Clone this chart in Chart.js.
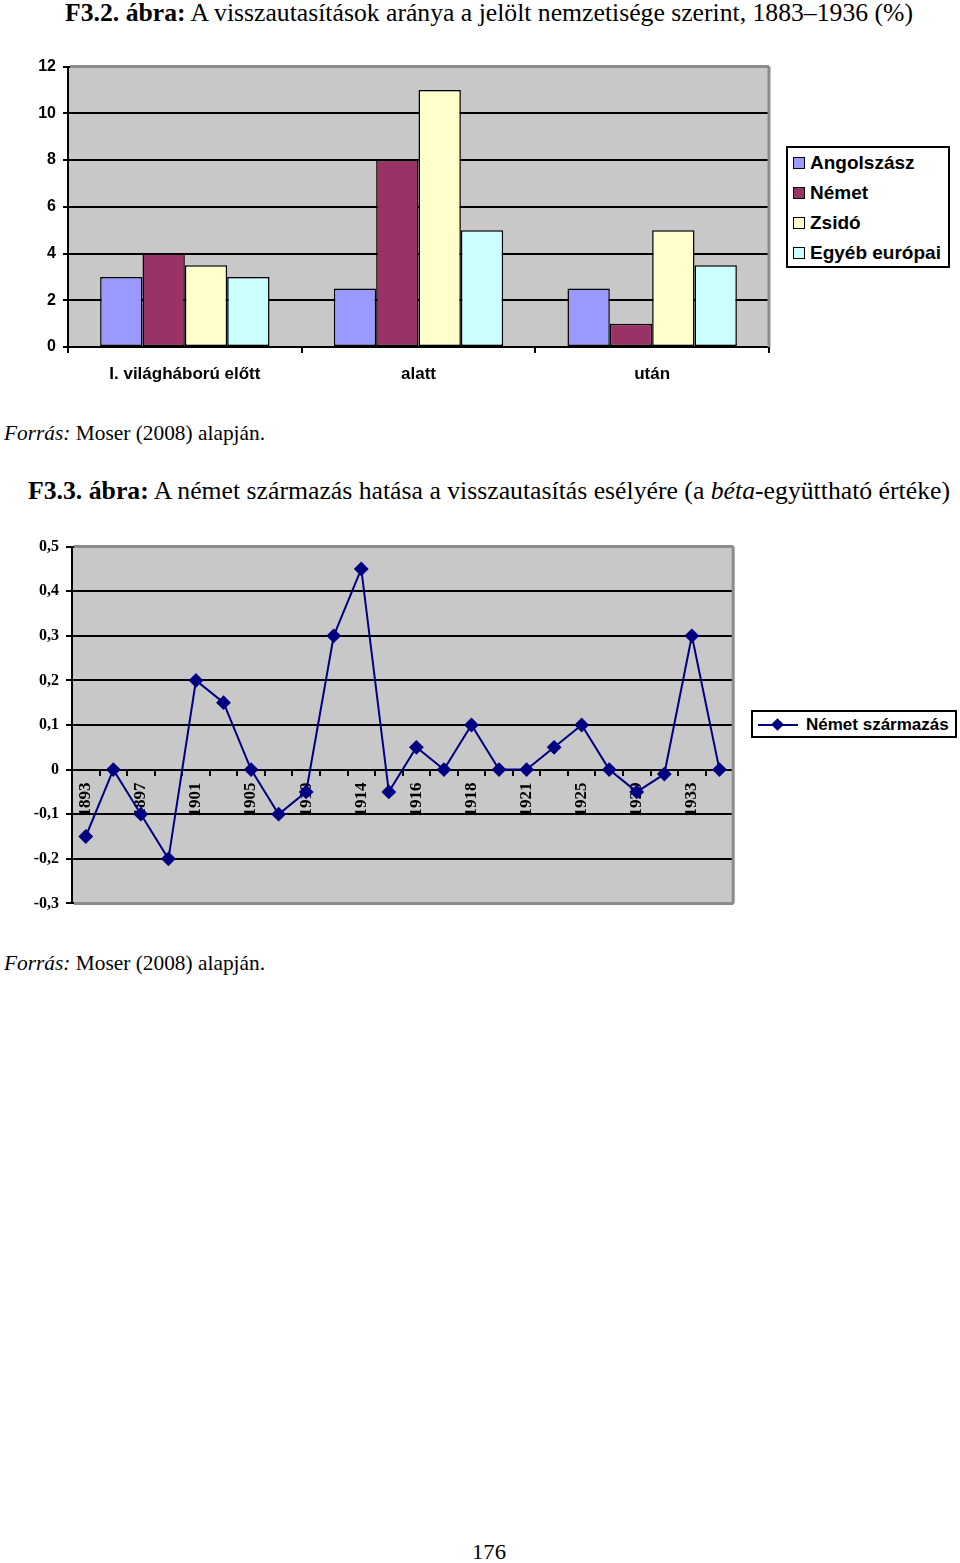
<!DOCTYPE html>
<html lang="hu">
<head>
<meta charset="utf-8">
<title>F3.2 / F3.3 ábra</title>
<script src="https://cdn.jsdelivr.net/npm/chart.js@4.4.1/dist/chart.umd.min.js"></script>
<style>
  html, body { margin: 0; padding: 0; background: #fff; }
  body { position: relative; width: 960px; height: 1563px; overflow: hidden; font-family: "Liberation Serif", "Times New Roman", serif; color: #000; }
  .txt { position: absolute; white-space: nowrap; line-height: 1; transform-origin: 0 50%; }
  .cap { font-size: 26px; }
  .src { font-size: 21px; }
  canvas { position: absolute; left: 0; }
  .legend { position: absolute; border: 2px solid #000; background: #fff; box-sizing: border-box;
            font-family: "Liberation Sans", Arial, sans-serif; font-weight: bold; color: #000; }
  .legend .row { position: absolute; white-space: nowrap; line-height: 1; }
  .legend .sw { position: absolute; width: 10px; height: 10px; border: 1px solid #000; }
</style>
</head>
<body>

<div class="txt cap" style="left:65px; top:0px;" data-w="848"><b>F3.2. ábra:</b> A visszautasítások aránya a jelölt nemzetisége szerint, 1883–1936 (%)</div>
<canvas id="barChart" width="780" height="345" style="top:50px;"></canvas>
<div class="legend" id="barLegend" style="left:786px; top:146px; width:164px; height:122px;"></div>
<div class="txt src" style="left:4px; top:423px;" data-w="261"><i>Forrás:</i> Moser (2008) alapján.</div>

<div class="txt cap" style="left:28px; top:478px;" data-w="922"><b>F3.3. ábra:</b> A német származás hatása a visszautasítás esélyére (a <i>béta</i>-együttható értéke)</div>
<canvas id="lineChart" width="748" height="390" style="top:530px;"></canvas>
<div class="legend" id="lineLegend" style="left:751px; top:710px; width:206px; height:28px;"></div>
<div class="txt src" style="left:4px; top:953px;" data-w="261"><i>Forrás:</i> Moser (2008) alapján.</div>

<div class="txt src" style="left:472px; top:1542px;" data-w="34">176</div>

<script>
// ----------------- Data: F3.2 -----------------
const periods = ["I. világháború előtt", "alatt", "után"];
const groupNames = ["Angolszász", "Német", "Zsidó", "Egyéb európai"];
const groupColors = ["#9999FF", "#993366", "#FFFFCC", "#CCFFFF"];
const angolszasz = [3, 2.5, 2.5];
const nemet = [4, 8, 1];
const zsido = [3.5, 11, 5];
const egyebEuropai = [3, 5, 3.5];
const barTicks = [0, 2, 4, 6, 8, 10, 12];

// ----------------- Data: F3.3 -----------------
const years = ["1893", "1895", "1897", "1899", "1901", "1903", "1905", "1907",
               "1910", "1912", "1914", "1915", "1916", "1917", "1918", "1920",
               "1921", "1923", "1925", "1927", "1929", "1931", "1933", "1935"];
const betaNemet = [-0.15, 0, -0.1, -0.2, 0.2, 0.15, 0, -0.1,
                   -0.05, 0.3, 0.45, -0.05, 0.05, 0, 0.1, 0,
                   0, 0.05, 0.1, 0, -0.05, -0.01, 0.3, 0];
const lineName = "Német származás";
const lineColor = "#000080";
const betaTicks = [-0.3, -0.2, -0.1, 0, 0.1, 0.2, 0.3, 0.4, 0.5];

// ----------------- Helpers -----------------
const SANS = "'Liberation Sans', Arial, sans-serif";
const SERIF = "'Liberation Serif', 'Times New Roman', serif";

function fitTexts() {
  document.querySelectorAll(".txt[data-w]").forEach(el => {
    const target = +el.dataset.w;
    const w = el.getBoundingClientRect().width;
    if (w > 0) el.style.transform = `scaleX(${target / w})`;
  });
}

function commaLabel(v) {
  if (Math.abs(v) < 1e-9) return "0";
  return v.toFixed(1).replace(".", ",");
}

// plot area fill + gray frame (Excel style)
function plotArea(fill, frameSides) {
  return {
    id: "plotArea",
    beforeDraw(chart) {
      const { ctx, chartArea: a } = chart;
      ctx.save();
      ctx.fillStyle = fill;
      ctx.fillRect(a.left, a.top, a.right - a.left, a.bottom - a.top);
      ctx.restore();
    },
    beforeDatasetsDraw(chart) {
      const { ctx, chartArea: a } = chart;
      ctx.save();
      ctx.strokeStyle = "#8c8c8c";
      ctx.lineWidth = 3;
      ctx.beginPath();
      if (frameSides.includes("top")) { ctx.moveTo(a.left + 2, a.top); ctx.lineTo(a.right, a.top); }
      if (frameSides.includes("right")) { ctx.moveTo(a.right, a.top); ctx.lineTo(a.right, a.bottom); }
      if (frameSides.includes("bottom")) { ctx.moveTo(a.left + 2, a.bottom); ctx.lineTo(a.right, a.bottom); }
      ctx.stroke();
      ctx.restore();
    }
  };
}

// ----------------- Bar chart -----------------
function buildBarChart() {
  const series = [angolszasz, nemet, zsido, egyebEuropai];
  new Chart(document.getElementById("barChart"), {
    type: "bar",
    data: {
      labels: periods,
      datasets: series.map((vals, i) => ({
        label: groupNames[i],
        data: vals,
        backgroundColor: groupColors[i],
        borderColor: "#000",
        borderWidth: 1.5,
        borderSkipped: false,
        categoryPercentage: 0.725,
        barPercentage: 1.0
      }))
    },
    options: {
      responsive: false,
      animation: false,
      devicePixelRatio: 1,
      layout: { padding: { top: 16, right: 11, left: 0, bottom: 0 } },
      plugins: { legend: { display: false }, tooltip: { enabled: false } },
      scales: {
        x: {
          afterFit: s => { s.height = 48; },
          grid: { display: true, offset: true, drawOnChartArea: false, drawTicks: true, tickLength: 6, color: "#000", lineWidth: 2 },
          border: { display: true, color: "#000", width: 2 },
          ticks: { color: "#000", padding: 11, font: { family: SANS, size: 17, weight: "bold" } }
        },
        y: {
          min: barTicks[0],
          max: barTicks[barTicks.length - 1],
          afterFit: s => { s.width = 68; },
          afterBuildTicks: s => { s.ticks = barTicks.map(v => ({ value: v })); },
          grid: { color: "#000", lineWidth: 2, tickLength: 5, drawTicks: true },
          border: { display: true, color: "#000", width: 2 },
          ticks: { color: "#000", padding: 7, font: { family: SANS, size: 16, weight: "bold" } }
        }
      }
    },
    plugins: [plotArea("#c8c8c8", ["top", "right"])]
  });

  const box = document.getElementById("barLegend");
  groupNames.forEach((name, i) => {
    const row = document.createElement("div");
    row.className = "row";
    row.style.cssText = `left:5px; top:${5 + i * 30}px; height:19px; width:154px; font-size:19px;`;
    const sw = document.createElement("span");
    sw.className = "sw";
    sw.style.cssText = `left:0; top:4px; background:${groupColors[i]};`;
    const tx = document.createElement("span");
    tx.style.cssText = "position:absolute; left:17px; top:0;";
    tx.textContent = name;
    row.appendChild(sw);
    row.appendChild(tx);
    box.appendChild(row);
  });
}

// ----------------- Line chart -----------------
function buildLineChart() {
  new Chart(document.getElementById("lineChart"), {
    type: "line",
    data: {
      labels: years,
      datasets: [{
        label: lineName,
        data: betaNemet,
        borderColor: lineColor,
        borderWidth: 2,
        backgroundColor: lineColor,
        pointStyle: "rectRot",
        pointRadius: 6,
        pointBackgroundColor: lineColor,
        pointBorderColor: lineColor,
        tension: 0,
        fill: false,
        clip: false
      }]
    },
    options: {
      responsive: false,
      animation: false,
      devicePixelRatio: 1,
      layout: { padding: { top: 14, right: 6, left: 0, bottom: 16 } },
      plugins: { legend: { display: false }, tooltip: { enabled: false } },
      scales: {
        x: {
          position: { y: 0 },
          offset: true,
          afterFit: s => { s.height = 0; },
          grid: { display: true, offset: true, drawOnChartArea: false, drawTicks: true, tickLength: 5, color: "#000", lineWidth: 2 },
          border: { display: true, color: "#000", width: 2 },
          ticks: {
            color: "#000",
            autoSkip: false,
            minRotation: 90,
            maxRotation: 90,
            padding: 8,
            font: { family: SERIF, size: 17, weight: "bold" },
            callback: (v, i) => (i % 2 === 0 ? years[i] : "")
          }
        },
        y: {
          min: betaTicks[0],
          max: betaTicks[betaTicks.length - 1],
          afterFit: s => { s.width = 72; },
          afterBuildTicks: s => { s.ticks = betaTicks.map(v => ({ value: v })); },
          grid: { color: "#000", lineWidth: 2, tickLength: 6, drawTicks: true },
          border: { display: true, color: "#000", width: 2 },
          ticks: { color: "#000", padding: 7, font: { family: SERIF, size: 16, weight: "bold" }, callback: v => commaLabel(v) }
        }
      }
    },
    plugins: [plotArea("#c8c8c8", ["top", "right", "bottom"])]
  });

  const box = document.getElementById("lineLegend");
  const row = document.createElement("div");
  row.className = "row";
  row.style.cssText = "left:5px; top:4px; height:17px; width:197px; font-size:17px;";
  const ln = document.createElement("span");
  ln.style.cssText = `position:absolute; left:0; top:8px; width:40px; height:2px; background:${lineColor};`;
  const dm = document.createElement("span");
  dm.style.cssText = `position:absolute; left:15px; top:4px; width:9px; height:9px; background:${lineColor}; transform:rotate(45deg);`;
  const tx = document.createElement("span");
  tx.style.cssText = "position:absolute; left:48px; top:0;";
  tx.textContent = lineName;
  row.appendChild(ln);
  row.appendChild(dm);
  row.appendChild(tx);
  box.appendChild(row);
}

// ----------------- Init -----------------
fitTexts();
buildBarChart();
buildLineChart();
</script>
</body>
</html>
